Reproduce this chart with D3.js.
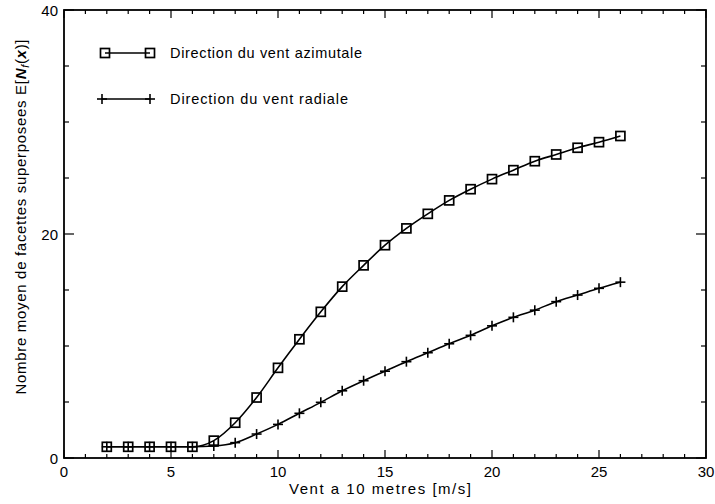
<!DOCTYPE html>
<html><head><meta charset="utf-8">
<script src="https://cdn.jsdelivr.net/npm/d3@7"></script>
<style>body{margin:0;background:#fff}svg{display:block}text{font-family:"Liberation Sans",Arial,sans-serif;fill:#000}</style>
</head><body><svg id="c" width="715" height="504"></svg>
<script>
const windSpeed = [2,3,4,5,6,7,8,9,10,11,12,13,14,15,16,17,18,19,20,21,22,23,24,25,26];
const azimutal = [1.0,1.0,1.0,1.0,1.0,1.55,3.15,5.4,8.05,10.6,13.05,15.3,17.2,19.0,20.5,21.8,23.0,24.0,24.9,25.7,26.5,27.1,27.7,28.2,28.75];
const radiale = [1.0,1.0,1.0,1.0,1.0,1.07,1.37,2.14,3.0,3.99,4.97,6.0,6.9,7.75,8.6,9.4,10.2,10.95,11.8,12.56,13.2,13.96,14.55,15.15,15.7];
const xTicks = [0,5,10,15,20,25,30];
const yTicks = [0,20,40];
const seriesNames = ["Direction du vent azimutale","Direction du vent radiale"];
const xTitle = "Vent a 10 metres [m/s]";
const yTitle = "Nombre moyen de facettes superposees ";

const svg = d3.select("#c");
const L=64,R=706,T=10,B=458;
const x = d3.scaleLinear().domain([0,30]).range([L,R]);
const y = d3.scaleLinear().domain([0,40]).range([B,T]);

// frame
svg.append("rect").attr("x",L).attr("y",T).attr("width",R-L).attr("height",B-T)
  .attr("fill","none").attr("stroke","#000").attr("stroke-width",1.8);

// ticks
const minorX = d3.range(0,31,1), minorY = d3.range(0,41,5);
const g = svg.append("g").attr("stroke","#000").attr("stroke-width",1.2);
minorX.forEach(v=>{
  const len = v%5===0?8:4;
  g.append("line").attr("x1",x(v)).attr("x2",x(v)).attr("y1",B).attr("y2",B-len);
  g.append("line").attr("x1",x(v)).attr("x2",x(v)).attr("y1",T).attr("y2",T+len);
});
minorY.forEach(v=>{
  const len = v%20===0?10:5;
  g.append("line").attr("y1",y(v)).attr("y2",y(v)).attr("x1",L).attr("x2",L+len);
  g.append("line").attr("y1",y(v)).attr("y2",y(v)).attr("x1",R).attr("x2",R-len);
});

// tick labels
svg.selectAll(".xl").data(xTicks).enter().append("text")
  .attr("x",d=>x(d)).attr("y",477).attr("text-anchor","middle")
  .style("font-size","15px").text(d=>d);
svg.selectAll(".yl").data(yTicks).enter().append("text")
  .attr("x",58).attr("y",d=>y(d)+5.5).attr("text-anchor","end")
  .style("font-size","15px").text(d=>d);

// axis titles
svg.append("text").attr("x",380).attr("y",494).attr("text-anchor","middle")
  .style("font-size","15px").attr("textLength",182).attr("lengthAdjust","spacing").text(xTitle);
const yt = svg.append("text").attr("transform","translate(26,217) rotate(-90)")
  .attr("text-anchor","middle").style("font-size","15px")
  .attr("textLength",355).attr("lengthAdjust","spacing");
yt.append("tspan").text(yTitle);
yt.append("tspan").text("E[");
yt.append("tspan").style("font-style","italic").style("font-weight","bold").text("N");
yt.append("tspan").attr("dy",3).style("font-size","11px").style("font-style","italic").text("f");
yt.append("tspan").attr("dy",-3).text("(");
yt.append("tspan").style("font-style","italic").style("font-weight","bold").text("x");
yt.append("tspan").text(")]");

// lines
const line = d3.line().x(d=>x(d[0])).y(d=>y(d[1])).curve(d3.curveMonotoneX);
const azData = windSpeed.map((v,i)=>[v,azimutal[i]]);
const raData = windSpeed.map((v,i)=>[v,radiale[i]]);
svg.append("path").attr("d",line(azData)).attr("fill","none").attr("stroke","#000").attr("stroke-width",1.6);
svg.append("path").attr("d",line(raData)).attr("fill","none").attr("stroke","#000").attr("stroke-width",1.6);

function square(sel,cx,cy){sel.append("rect").attr("x",cx-4.5).attr("y",cy-4.5).attr("width",9).attr("height",9)
  .attr("fill","none").attr("stroke","#000").attr("stroke-width",1.7);}
function cross(sel,cx,cy){
  sel.append("line").attr("x1",cx-5).attr("x2",cx+5).attr("y1",cy).attr("y2",cy).attr("stroke","#000").attr("stroke-width",1.6);
  sel.append("line").attr("x1",cx).attr("x2",cx).attr("y1",cy-5).attr("y2",cy+5).attr("stroke","#000").attr("stroke-width",1.6);
}
const mk = svg.append("g");
azData.forEach(d=>square(mk,x(d[0]),y(d[1])));
raData.forEach(d=>cross(mk,x(d[0]),y(d[1])));

// legend
const lg = svg.append("g");
lg.append("line").attr("x1",105).attr("x2",150).attr("y1",53).attr("y2",53).attr("stroke","#000").attr("stroke-width",1.4);
square(lg,105,53); square(lg,150,53);
lg.append("text").attr("x",170).attr("y",58).style("font-size","14.5px").attr("textLength",192).text(seriesNames[0]);
lg.append("line").attr("x1",102).attr("x2",150).attr("y1",99).attr("y2",99).attr("stroke","#000").attr("stroke-width",1.4);
cross(lg,102,99); cross(lg,150,99);
lg.append("text").attr("x",170).attr("y",104).style("font-size","14.5px").attr("textLength",178).text(seriesNames[1]);
</script></body></html>
